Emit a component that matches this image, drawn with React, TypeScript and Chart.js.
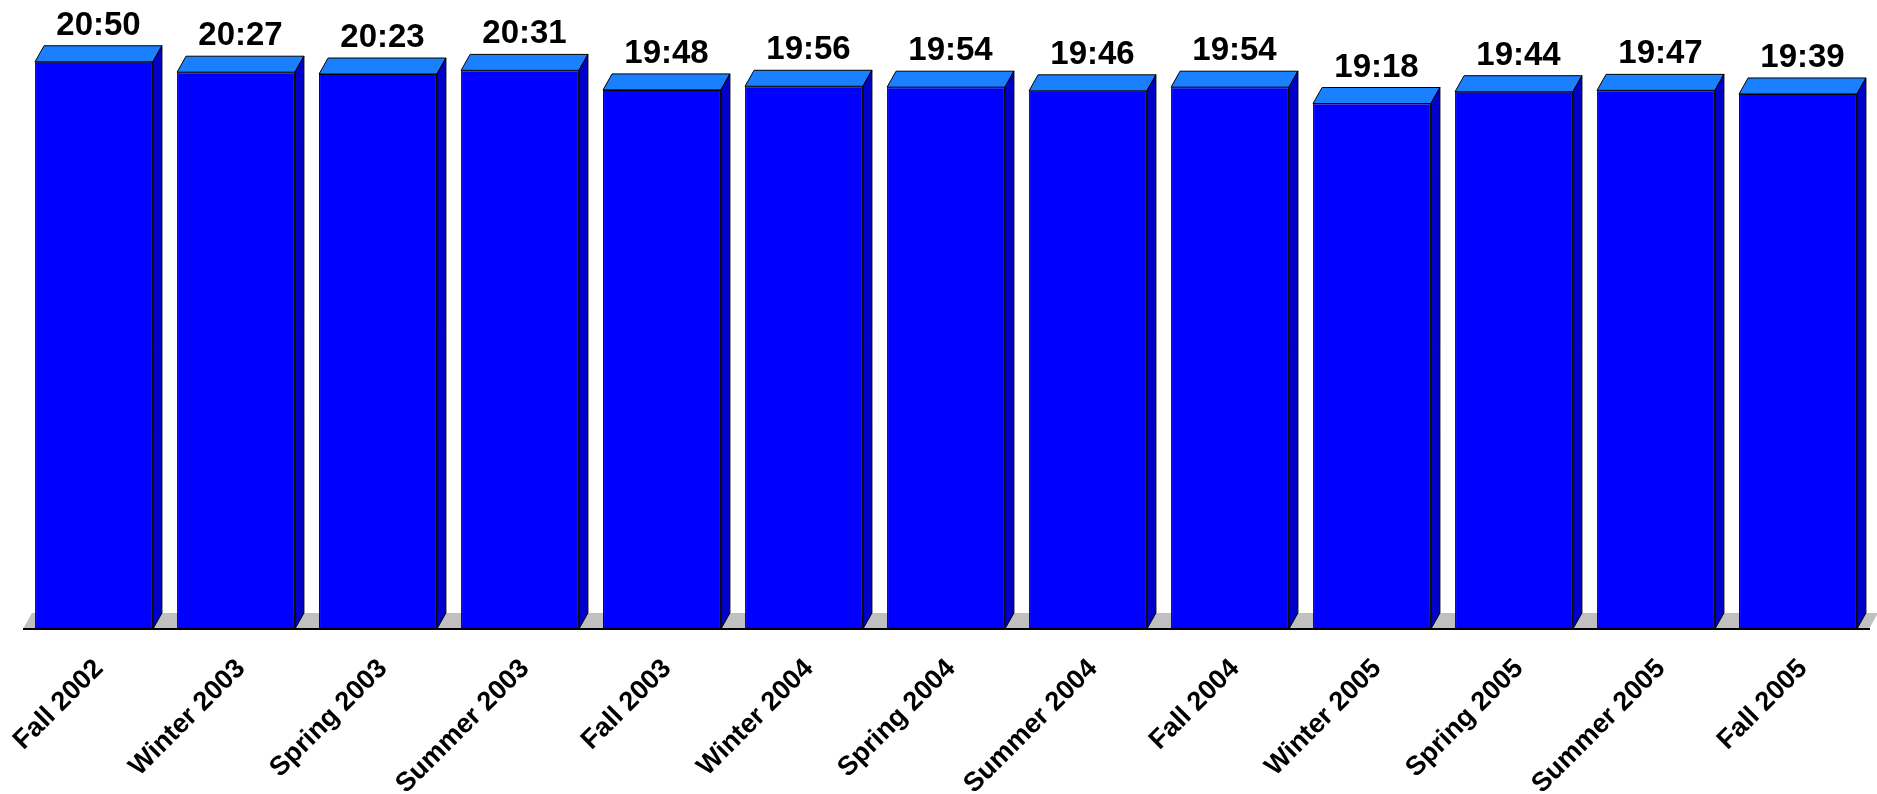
import React, { useEffect, useRef } from 'react';
import { Chart, registerables } from 'chart.js';

Chart.register(...registerables);

// ---- Data ----
const categories = [
  'Fall 2002', 'Winter 2003', 'Spring 2003', 'Summer 2003', 'Fall 2003',
  'Winter 2004', 'Spring 2004', 'Summer 2004', 'Fall 2004', 'Winter 2005',
  'Spring 2005', 'Summer 2005', 'Fall 2005',
];
// durations in seconds (mm:ss shown on top)
const durations = [1250, 1227, 1223, 1231, 1188, 1196, 1194, 1186, 1194, 1158, 1184, 1187, 1179];
const yAxisMax = 1320;

// ---- Style ----
const FRONT = '#0000FF';
const TOP = '#1A80FF';
const SIDE = '#0000C8';
const FLOOR = '#C0C0C0';
const DX = 9;
const DY = 16;
const FONT = "'Liberation Sans', Arial, sans-serif";

const fmt = (v: number) => {
  const m = Math.floor(v / 60);
  const s = v % 60;
  return `${m}:${s < 10 ? '0' : ''}${s}`;
};

const bar3d = {
  id: 'bar3d',
  beforeDatasetsDraw(chart: any) {
    const { ctx, chartArea } = chart;
    const y0 = chart.scales.y.getPixelForValue(0);
    ctx.save();
    ctx.fillStyle = FLOOR;
    ctx.beginPath();
    ctx.moveTo(chartArea.left, y0);
    ctx.lineTo(chartArea.left + DX, y0 - DY);
    ctx.lineTo(chartArea.right + DX, y0 - DY);
    ctx.lineTo(chartArea.right, y0);
    ctx.closePath();
    ctx.fill();
    ctx.restore();
  },
  afterDatasetsDraw(chart: any) {
    const { ctx, chartArea } = chart;
    const meta = chart.getDatasetMeta(0);
    const y0 = chart.scales.y.getPixelForValue(0);
    ctx.save();
    ctx.lineWidth = 1;
    ctx.strokeStyle = '#000000';
    meta.data.forEach((bar: any, i: number) => {
      const { x, y, base, width } = bar.getProps(['x', 'y', 'base', 'width'], true);
      const l = x - width / 2;
      const r = x + width / 2;
      // top face
      ctx.fillStyle = TOP;
      ctx.beginPath();
      ctx.moveTo(l, y);
      ctx.lineTo(l + DX, y - DY);
      ctx.lineTo(r + DX, y - DY);
      ctx.lineTo(r, y);
      ctx.closePath();
      ctx.fill();
      ctx.stroke();
      // side face
      ctx.fillStyle = SIDE;
      ctx.beginPath();
      ctx.moveTo(r, y);
      ctx.lineTo(r + DX, y - DY);
      ctx.lineTo(r + DX, base - DY);
      ctx.lineTo(r, base);
      ctx.closePath();
      ctx.fill();
      ctx.stroke();
      // value label
      ctx.fillStyle = '#000000';
      ctx.font = `bold 33px ${FONT}`;
      ctx.textAlign = 'center';
      ctx.textBaseline = 'alphabetic';
      ctx.fillText(fmt(durations[i]), x + DX / 2, y - DY - 11);
    });
    // axis line
    ctx.strokeStyle = '#000000';
    ctx.lineWidth = 2;
    ctx.beginPath();
    ctx.moveTo(chartArea.left, y0);
    ctx.lineTo(chartArea.right + 1, y0);
    ctx.stroke();
    ctx.restore();
  },
};

export default function App() {
  const canvasRef = useRef<HTMLCanvasElement | null>(null);

  useEffect(() => {
    document.body.style.margin = '0';
    const canvas = canvasRef.current;
    if (!canvas) return;
    const chart = new Chart(canvas, {
      type: 'bar',
      data: {
        labels: categories,
        datasets: [
          {
            data: durations,
            backgroundColor: FRONT,
            borderColor: '#000000',
            borderWidth: 1,
            borderSkipped: 'start',
            barPercentage: 0.83,
            categoryPercentage: 1,
          },
        ],
      },
      options: {
        animation: false,
        responsive: true,
        maintainAspectRatio: false,
        layout: { padding: { left: 23, right: 8, top: 30, bottom: 0 } },
        plugins: {
          legend: { display: false },
          tooltip: { enabled: false },
          title: { display: false },
        },
        scales: {
          x: {
            grid: { display: false, drawTicks: false },
            border: { display: false },
            ticks: {
              color: '#000000',
              font: { family: FONT, size: 27, weight: 'bold' },
              minRotation: 45,
              maxRotation: 45,
              autoSkip: false,
              padding: 24,
              labelOffset: 5,
            },
            afterFit: (scale: any) => {
              scale.height = 165;
              scale.paddingLeft = 0;
              scale.paddingRight = 0;
            },
          },
          y: {
            display: false,
            min: 0,
            max: yAxisMax,
          },
        },
      },
      plugins: [bar3d],
    });
    return () => chart.destroy();
  }, []);

  return (
    <div style={{ position: 'absolute', left: 0, top: 0, width: 1877, height: 794, background: '#ffffff' }}>
      <canvas ref={canvasRef} />
    </div>
  );
}
